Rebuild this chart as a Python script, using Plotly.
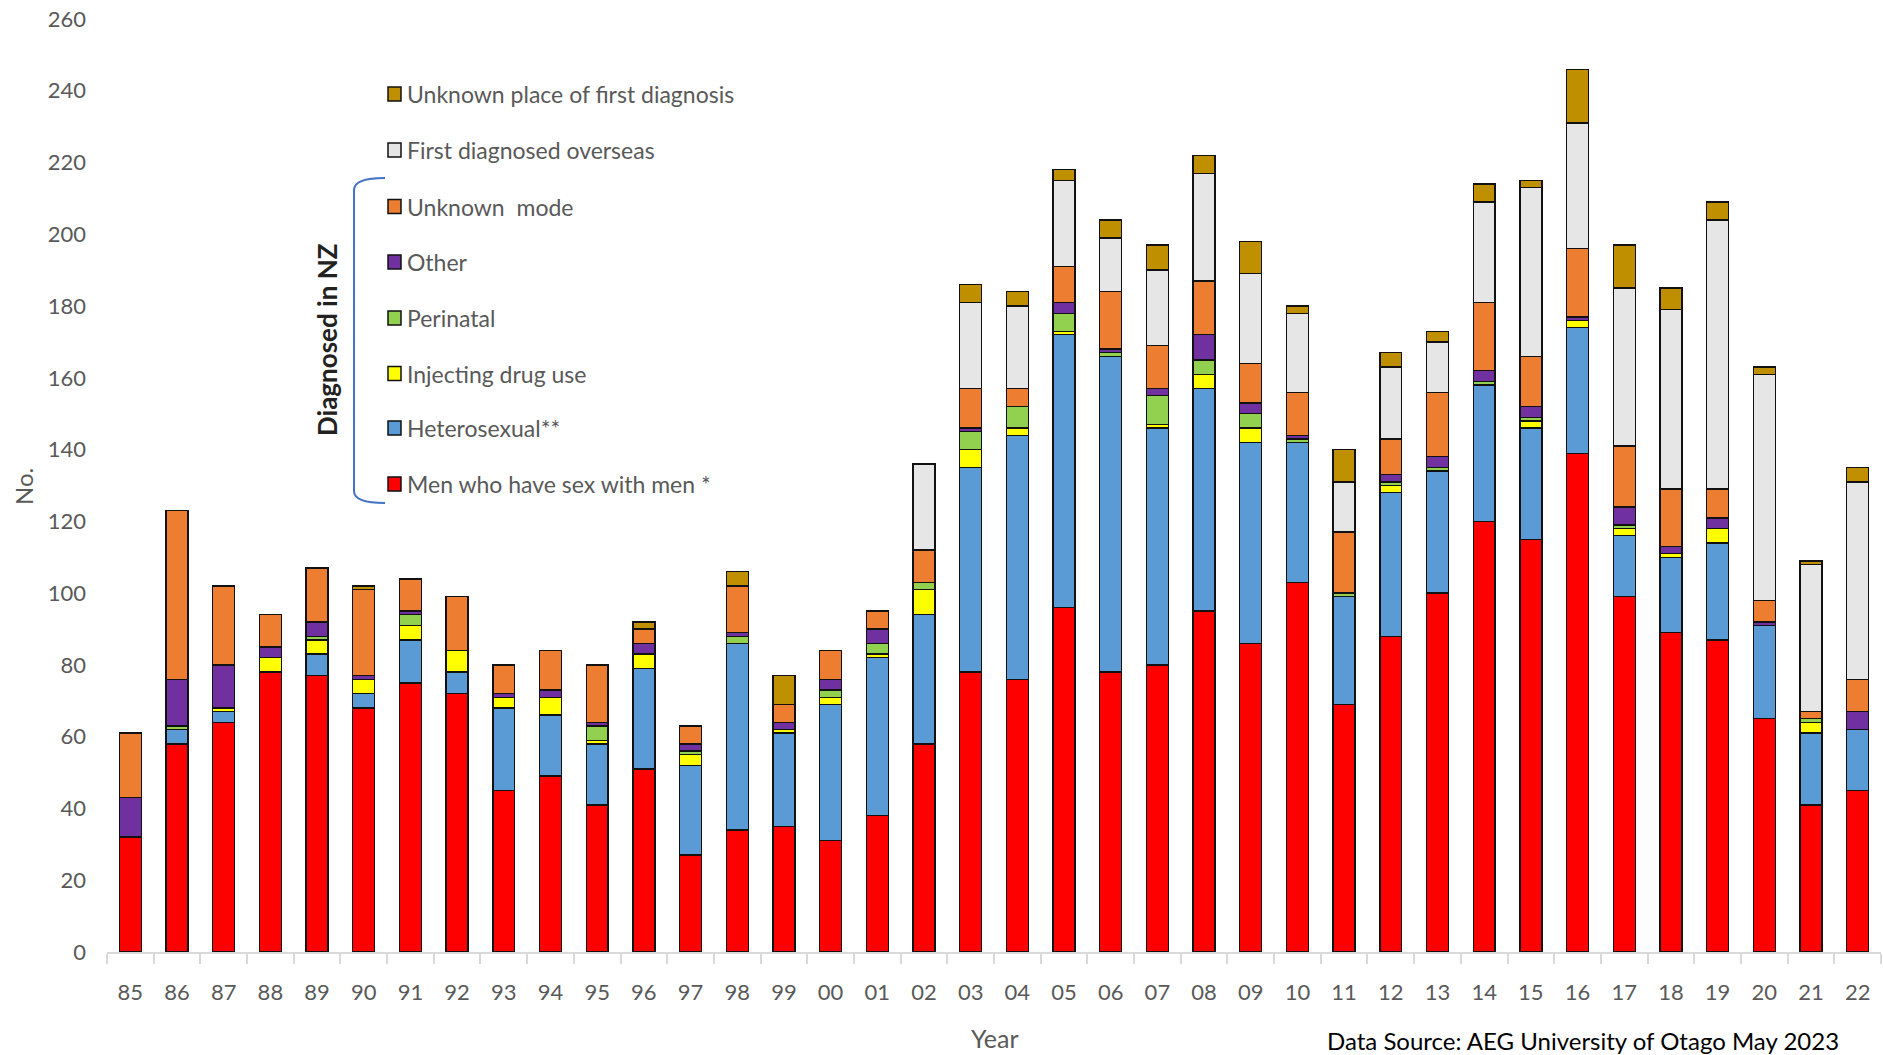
import plotly.graph_objects as go

years = ["85","86","87","88","89","90","91","92","93","94","95","96","97","98","99","00","01","02","03",
         "04","05","06","07","08","09","10","11","12","13","14","15","16","17","18","19","20","21","22"]

msm       = [32,58,64,78,77,68,75,72,45,49,41,51,27,34,35,31,38,58,78,76,96,78,80,95,86,103,69,88,100,120,115,139,99,89,87,65,41,45]
hetero    = [0,4,3,0,6,4,12,6,23,17,17,28,25,52,26,38,44,36,57,68,76,88,66,62,56,39,30,40,34,38,31,35,17,21,27,26,20,17]
idu       = [0,0,1,4,4,4,4,6,3,5,1,4,3,0,1,2,1,7,5,2,1,0,1,4,4,0,0,2,0,0,2,2,2,1,4,0,3,0]
perinatal = [0,1,0,0,1,0,3,0,0,0,4,0,1,2,0,2,3,2,5,6,5,1,8,4,4,1,1,1,1,1,1,0,1,0,0,0,1,0]
other     = [11,13,12,3,4,1,1,0,1,2,1,3,2,1,2,3,4,0,1,0,3,1,2,7,3,1,0,2,3,3,3,1,5,2,3,1,0,5]
unk_mode  = [18,47,22,9,15,24,9,15,8,11,16,4,5,13,5,8,5,9,11,5,10,16,12,15,11,12,17,10,18,19,14,19,17,16,8,6,2,9]
overseas  = [0,0,0,0,0,0,0,0,0,0,0,0,0,0,0,0,0,24,24,23,24,15,21,30,25,22,14,20,14,28,47,35,44,50,75,63,41,55]
unk_place = [0,0,0,0,0,1,0,0,0,0,0,2,0,4,8,0,0,0,5,4,3,5,7,5,9,2,9,4,3,5,2,15,12,6,5,2,1,4]

series_names = ["Men who have sex with men *", "Heterosexual**", "Injecting drug use", "Perinatal",
                "Other", "Unknown  mode", "First diagnosed overseas", "Unknown place of first diagnosis"]
series_values = [msm, hetero, idu, perinatal, other, unk_mode, overseas, unk_place]
series_colors = ["#FF0000", "#5B9BD5", "#FFFF00", "#92D050", "#7030A0", "#ED7D31", "#E7E6E6", "#BF8F00"]

W, H = 1883, 1055
L, R, T, B = 107, 2, 19, 103
PW, PH = W - L - R, H - T - B
FONT = "Lato"
GREY = "#595959"

def px(x):
    return (x - L) / PW

def py(y):
    return (H - B - y) / PH

fig = go.Figure()
for name, vals, col in zip(series_names, series_values, series_colors):
    fig.add_trace(go.Bar(
        x=years, y=[v if v else None for v in vals], name=name,
        marker=dict(color=col, line=dict(color="#111111", width=1.4)),
        showlegend=False,
    ))

shapes = []
annotations = []

# manual legend (top to bottom)
leg_y = [94, 150, 206.5, 262, 318, 373.5, 428, 484]
for i, yy in enumerate(leg_y):
    k = len(series_names) - 1 - i
    shapes.append(dict(type="rect", xref="paper", yref="paper",
                       x0=px(388), x1=px(401), y0=py(yy + 7), y1=py(yy - 7),
                       fillcolor=series_colors[k], line=dict(color="#111111", width=1.5)))
    annotations.append(dict(xref="paper", yref="paper", x=px(405), y=py(yy),
                            xanchor="left", yanchor="middle", showarrow=False,
                            text=series_names[k], font=dict(family=FONT, size=23, color=GREY)))

# bracket
bx0, bx1, by0, by1 = 354, 385, 178, 503
path = (f"M {px(bx1)},{py(by0)} Q {px(bx0)},{py(by0)} {px(bx0)},{py(by0+12)} "
        f"L {px(bx0)},{py(by1-12)} Q {px(bx0)},{py(by1)} {px(bx1)},{py(by1)}")
shapes.append(dict(type="path", xref="paper", yref="paper", path=path,
                   line=dict(color="#4472C4", width=2)))

annotations.append(dict(xref="paper", yref="paper", x=px(327), y=py(340), textangle=-90,
                        xanchor="center", yanchor="middle", showarrow=False,
                        text="<b>Diagnosed in NZ</b>", font=dict(family=FONT, size=26, color="#222222")))
annotations.append(dict(xref="paper", yref="paper", x=px(23), y=py(487), textangle=-90,
                        xanchor="center", yanchor="middle", showarrow=False,
                        text="No.", font=dict(family=FONT, size=24, color=GREY)))
annotations.append(dict(xref="paper", yref="paper", x=px(995), y=py(1038),
                        xanchor="center", yanchor="middle", showarrow=False,
                        text="Year", font=dict(family=FONT, size=25, color=GREY)))
annotations.append(dict(xref="paper", yref="paper", x=px(1841), y=py(1040),
                        xanchor="right", yanchor="middle", showarrow=False,
                        text="Data Source: AEG University of Otago May 2023",
                        font=dict(family=FONT, size=24, color="#000000")))

fig.update_layout(
    width=W, height=H,
    margin=dict(l=L, r=R, t=T, b=B, autoexpand=False),
    barmode="stack", bargap=0.53,
    plot_bgcolor="white", paper_bgcolor="white",
    font=dict(family=FONT, color=GREY),
    shapes=shapes, annotations=annotations,
    xaxis=dict(type="category", showgrid=False, showline=True, linecolor="#D9D9D9", linewidth=2,
               ticks="outside", tickson="boundaries", ticklen=10, tickcolor="#D9D9D9", tickwidth=2,
               tickfont=dict(family=FONT, size=22, color=GREY), ticklabelstandoff=20),
    yaxis=dict(range=[0, 260], tickvals=list(range(0, 261, 20)), showgrid=False, zeroline=False,
               showline=False, ticks="", tickfont=dict(family=FONT, size=22, color=GREY),
               ticklabelstandoff=20),
)

fig.write_html("out.html", config={"displayModeBar": False},
               post_script="document.body.style.margin='0';")
